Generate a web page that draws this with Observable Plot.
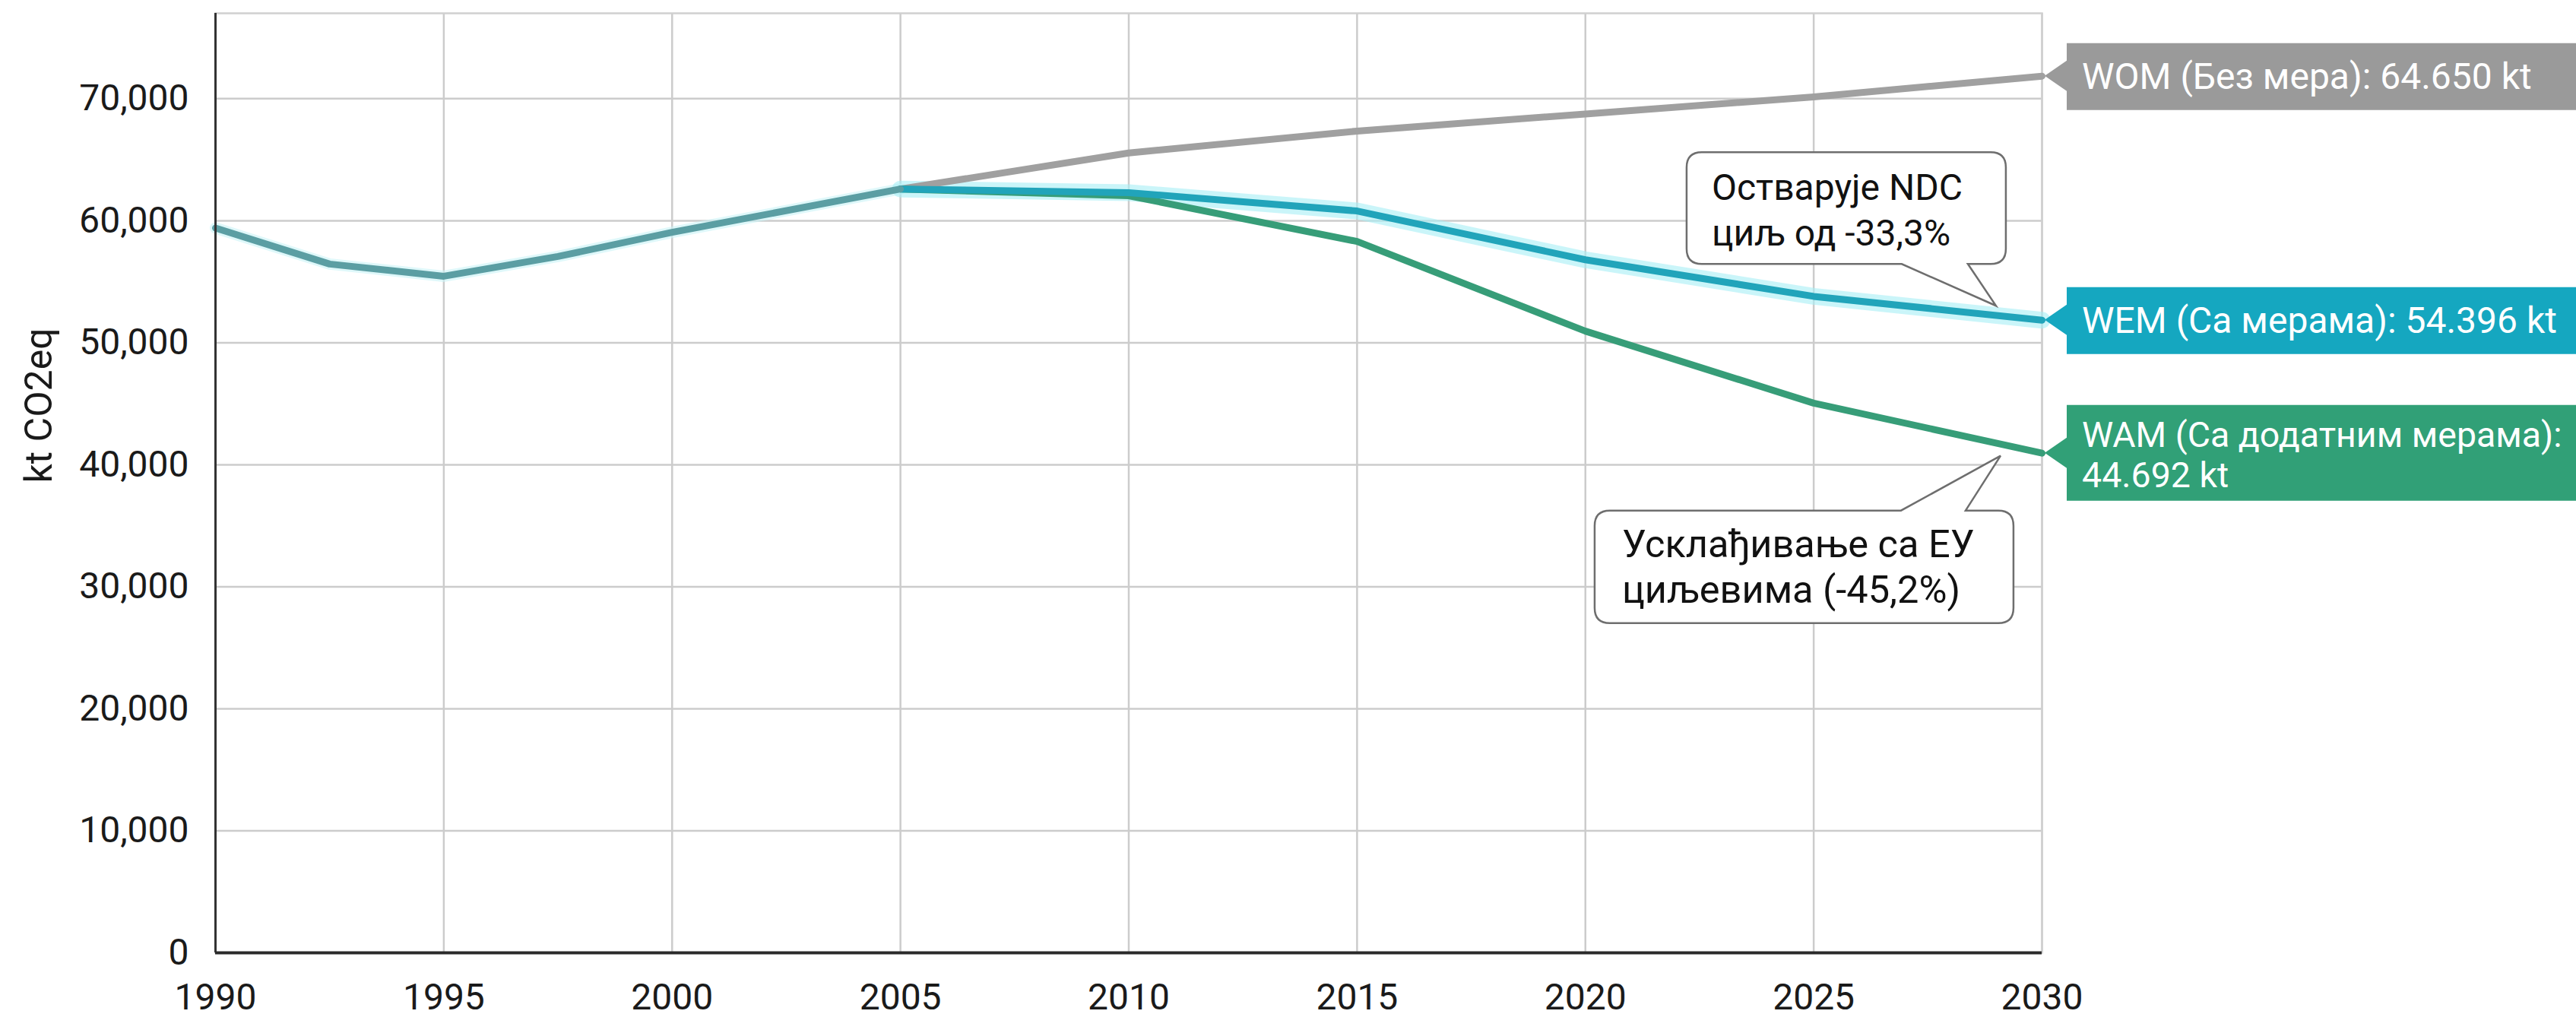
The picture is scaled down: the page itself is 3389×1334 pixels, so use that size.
<!DOCTYPE html>
<html>
<head>
<meta charset="utf-8">
<script src="https://cdn.jsdelivr.net/npm/d3@7"></script>
<script src="https://cdn.jsdelivr.net/npm/@observablehq/plot@0.6"></script>
<style>
  html, body { margin: 0; padding: 0; background: #ffffff; }
  #chart svg { display: block; }
</style>
</head>
<body>
<div id="chart"></div>
<script>
// ---------- data ----------
const histYears  = [1990, 1992.5, 1995, 1997.5, 2000, 2005];
const histValues = [59400, 56450, 55450, 57070, 59050, 62600];

const projYears  = [2005, 2010, 2015, 2020, 2025, 2030];
const womValues  = [62600, 65550, 67350, 68750, 70150, 71850];
const wemValues  = [62600, 62300, 60800, 56800, 53800, 51850];
const wamValues  = [62600, 62050, 58300, 50950, 45050, 40950];

const seriesKeys   = ["WOM", "WEM", "WAM"];
const seriesLabels = [
  ["WOM (Без мера): 64.650 kt"],
  ["WEM (Са мерама): 54.396 kt"],
  ["WAM (Са додатним мерама):", "44.692 kt"]
];
const lineColors = ["#a0a0a0", "#21a4ba", "#379d78"];
const tagColors  = ["#9a9a9a", "#15a7c0", "#31a077"];
const histColor  = "#5b9ea3";

const xTicks = [1990, 1995, 2000, 2005, 2010, 2015, 2020, 2025, 2030];
const yTicks = [0, 10000, 20000, 30000, 40000, 50000, 60000, 70000];
const yLabel = "kt CO2eq";

const calloutYears  = [2029, 2029.1];
const calloutValues = [53000, 40700];
const calloutLines  = [
  ["Остварује NDC", "циљ од -33,3%"],
  ["Усклађивање са ЕУ", "циљевима (-45,2%)"]
];

// ---------- tables built from the arrays ----------
const hist = histYears.map((x, i) => ({x, y: histValues[i]}));
const projValues = [womValues, wemValues, wamValues];
const proj = seriesKeys.map((k, s) => projYears.map((x, i) => ({x, y: projValues[s][i], k})));
const ends = seriesKeys.map((k, s) => ({k, x: projYears[projYears.length - 1], y: projValues[s][projYears.length - 1], s}));

// ---------- custom annotation marks (positions from the Plot scales) ----------
function tagsMark(index, scales, values, dims) {
  const g = d3.create("svg:g").attr("text-anchor", "start");
  ends.forEach(e => {
    const tx = scales.x(e.x) + 4, ty = scales.y(e.y);
    const bx = tx + 29;
    const two = seriesLabels[e.s].length > 1;
    const top = two ? ty - 63 : ty - 43;
    const bot = two ? ty + 63 : ty + 45;
    const W = dims.width;
    g.append("path")
      .attr("d", `M${tx},${ty}L${bx},${ty - 20}L${bx},${top}L${W},${top}L${W},${bot}L${bx},${bot}L${bx},${ty + 20}Z`)
      .attr("fill", tagColors[e.s]);
    const lines = seriesLabels[e.s];
    lines.forEach((t, j) => {
      g.append("text")
        .attr("x", bx + 20)
        .attr("y", two ? ty - 8 + j * 53 : ty + 17)
        .attr("text-anchor", "start")
        .attr("fill", "#ffffff")
        .attr("font-family", "Roboto, sans-serif")
        .attr("font-size", two ? 46.5 : 48)
        .text(t);
    });
  });
  return g.node();
}

function calloutsMark(index, scales, values, dims) {
  const g = d3.create("svg:g").attr("text-anchor", "start");
  const r = 20;
  calloutYears.forEach((yr, i) => {
    const tx = scales.x(yr), ty = scales.y(calloutValues[i]);
    let L, R, T, B, p1, p2, below;
    if (i === 0) { L = tx - 407; R = tx + 13; T = ty - 202; B = ty - 55; p1 = tx - 124; p2 = tx - 37; below = true; }
    else         { L = tx - 534; R = tx + 17; T = ty + 72;  B = ty + 220; p1 = tx - 131; p2 = tx - 46; below = false; }
    let d;
    if (below) {
      d = `M${L + r},${T}H${R - r}Q${R},${T} ${R},${T + r}V${B - r}Q${R},${B} ${R - r},${B}` +
          `H${p2}L${tx},${ty}L${p1},${B}H${L + r}Q${L},${B} ${L},${B - r}V${T + r}Q${L},${T} ${L + r},${T}Z`;
    } else {
      d = `M${L + r},${T}H${p1}L${tx},${ty}L${p2},${T}H${R - r}Q${R},${T} ${R},${T + r}V${B - r}Q${R},${B} ${R - r},${B}` +
          `H${L + r}Q${L},${B} ${L},${B - r}V${T + r}Q${L},${T} ${L + r},${T}Z`;
    }
    g.append("path").attr("d", d).attr("fill", "#ffffff").attr("stroke", "#6e6e6e").attr("stroke-width", 2.5);
    calloutLines[i].forEach((t, j) => {
      g.append("text")
        .attr("x", L + (i === 0 ? 33 : 36))
        .attr("y", T + (i === 0 ? 63 : 61) + j * 60)
        .attr("text-anchor", "start")
        .attr("fill", "#111111")
        .attr("font-family", "Roboto, sans-serif")
        .attr("font-size", i === 0 ? 48 : 50.5)
        .text(t);
    });
  });
  return g.node();
}

const chart = Plot.plot({
  width: 3389,
  height: 1334,
  marginLeft: 283,
  marginRight: 703,
  marginTop: 17,
  marginBottom: 81,
  style: { fontFamily: "Roboto, sans-serif", fontSize: "48px", color: "#1a1a1a", background: "#ffffff", overflow: "visible" },
  x: { domain: [1990, 2030], label: null },
  y: { domain: [0, 77000], label: null },
  marks: [
    Plot.gridX(xTicks, { stroke: "#cccccc", strokeOpacity: 1, strokeWidth: 2.5 }),
    Plot.gridY(yTicks, { stroke: "#cccccc", strokeOpacity: 1, strokeWidth: 2.5 }),
    Plot.frame({ stroke: "#d0d0d0", strokeWidth: 2.5 }),
    Plot.axisX(xTicks, { tickSize: 0, tickPadding: 40, tickFormat: d => String(d), fontSize: 48, label: null }),
    Plot.axisY(yTicks, { tickSize: 0, tickPadding: 35, tickFormat: d3.format(","), fontSize: 48, label: null }),
    Plot.text([yLabel], { frameAnchor: "left", dx: -232, rotate: -90, fontSize: 50, fill: "#1a1a1a" }),
    // glows
    Plot.line(hist, { x: "x", y: "y", stroke: "#c9f3f6", strokeWidth: 15, strokeOpacity: 0.6 }),
    Plot.line(proj[1], { x: "x", y: "y", stroke: "#a6eef5", strokeWidth: 22, strokeOpacity: 0.6 }),
    // lines
    Plot.line(proj[0], { x: "x", y: "y", stroke: lineColors[0], strokeWidth: 9 }),
    Plot.line(proj[2], { x: "x", y: "y", stroke: lineColors[2], strokeWidth: 9 }),
    Plot.line(proj[1], { x: "x", y: "y", stroke: lineColors[1], strokeWidth: 9 }),
    Plot.line(hist, { x: "x", y: "y", stroke: histColor, strokeWidth: 9 }),
    Plot.ruleX([1990], { stroke: "#333333", strokeWidth: 3 }),
    Plot.ruleY([0], { stroke: "#2a2a2a", strokeWidth: 4 }),
    tagsMark,
    calloutsMark
  ]
});

document.getElementById("chart").appendChild(chart);
</script>
</body>
</html>
